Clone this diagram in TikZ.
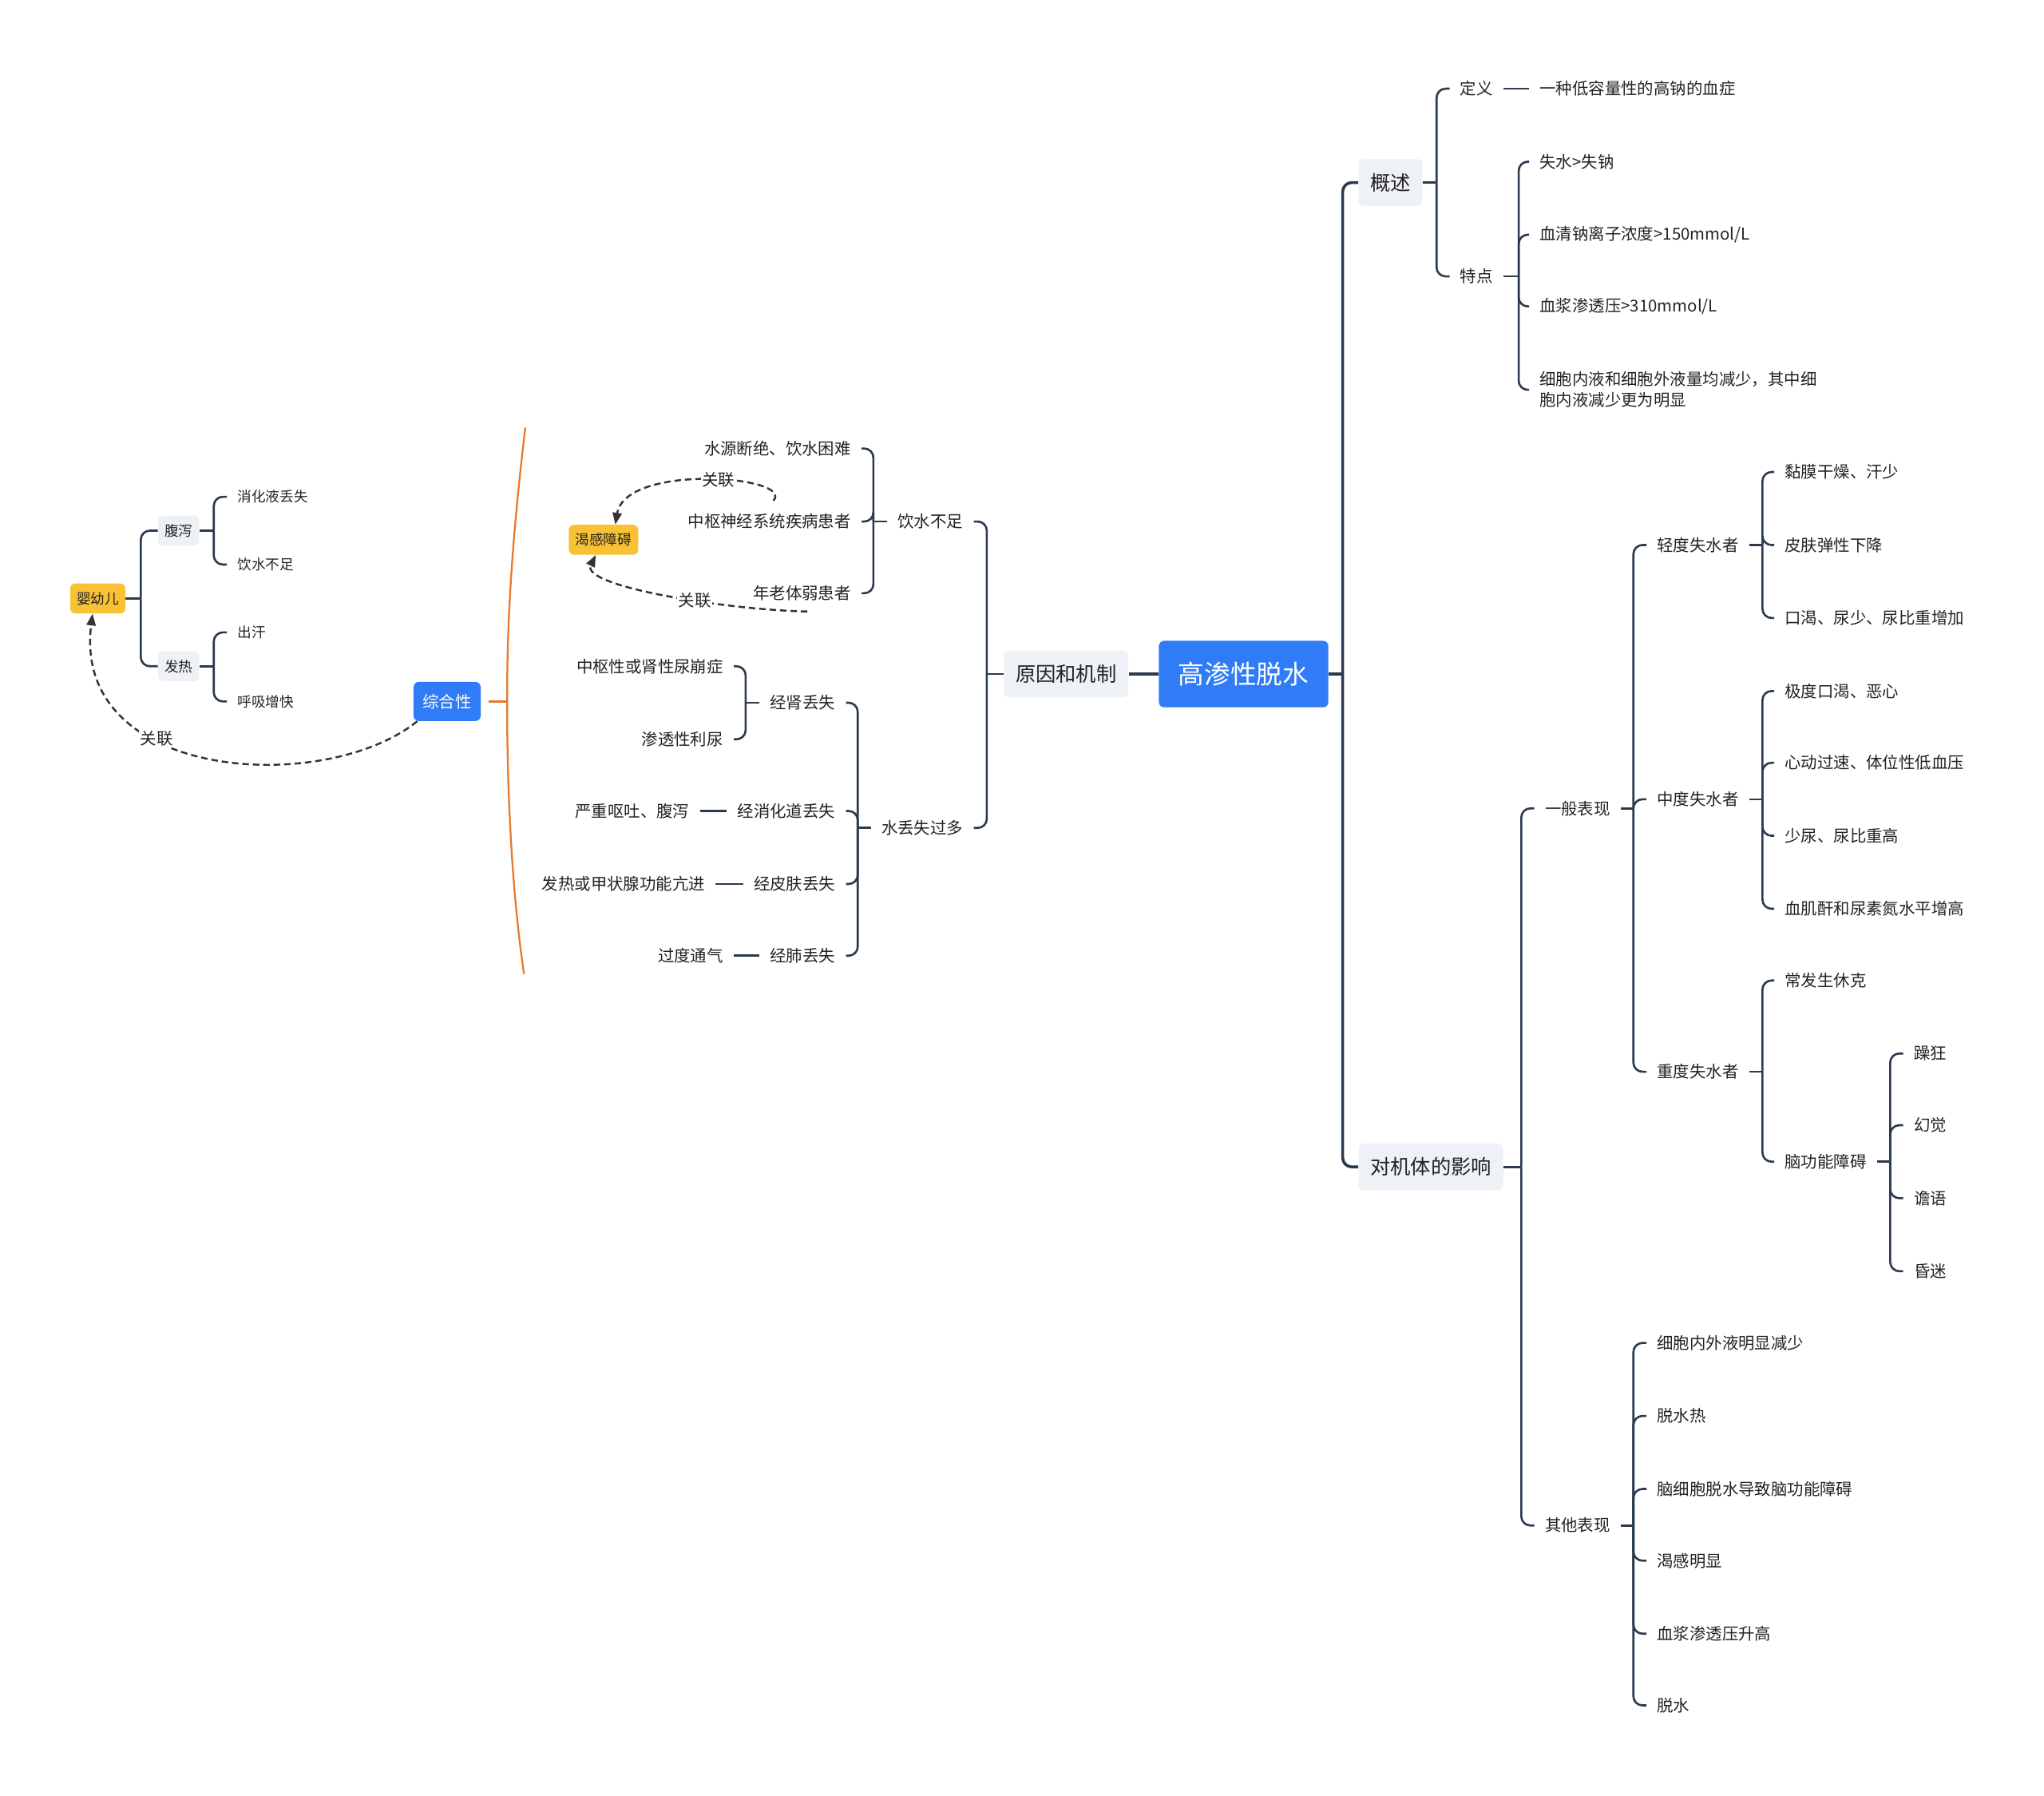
\documentclass[tikz,border=0pt]{standalone}
\usepackage{fontspec}
\setmainfont{Noto Sans CJK SC}
\usetikzlibrary{arrows.meta,positioning,calc}
\definecolor{cline}{HTML}{2B3A4E}
\definecolor{cblue}{HTML}{2F7CF6}
\definecolor{cpale}{HTML}{EEF1F5}
\definecolor{cyel}{HTML}{F9C235}
\definecolor{corg}{HTML}{E8792B}
\definecolor{ctxt}{HTML}{222222}
\definecolor{crel}{HTML}{333333}
\tikzset{
  box/.style={rounded corners=4pt, align=center, text=ctxt},
  rootn/.style={box, fill=cblue, text=white, inner xsep=15pt, minimum height=51pt, font=\fontsize{20}{24}\selectfont},
  topn/.style={box, fill=cpale, inner xsep=9pt, minimum height=36pt, font=\fontsize{15.5}{18}\selectfont},
  bluen/.style={box, fill=cblue, text=white, inner xsep=7pt, minimum height=30pt, font=\fontsize{12.5}{15}\selectfont},
  yeln/.style={box, fill=cyel, inner xsep=5pt, minimum height=23pt, font=\fontsize{10.8}{13}\selectfont},
  palen/.style={box, fill=cpale, inner xsep=5pt, minimum height=23pt, font=\fontsize{10.8}{13}\selectfont},
  txt/.style={inner xsep=8pt, inner ysep=2pt, text=ctxt, align=left, font=\fontsize{12.5}{16}\selectfont},
  stxt/.style={txt, font=\fontsize{10.8}{13}\selectfont},
  link/.style={draw=cline, line width=1.6pt, rounded corners=7pt},
  mainlink/.style={link, line width=2.2pt},
  rel/.style={draw=crel, line width=1.5pt, dash pattern=on 5pt off 3pt, -{Triangle[length=9pt,width=7pt]}},
  lbl/.style={fill=white, inner sep=1pt, text=ctxt, font=\fontsize{12.5}{15}\selectfont},
  brace/.style={draw=corg, line width=1.4pt},
}
\begin{document}
\begin{tikzpicture}[x=1pt,y=-1pt]
\useasboundingbox (0,0) rectangle (1568,1377);
% ---------------- centre
\node[rootn] (root) at (954,517) {高渗性脱水};
\node[topn, left=23pt of root] (cause) {原因和机制};
\node[topn, anchor=west] (ovw) at (1042,140) {概述};
\node[topn, anchor=west] (eff) at (1042,895) {对机体的影响};
\coordinate (rootT) at (1030,517);
\draw[mainlink] (cause) -- (root);
\draw[mainlink] (root) -- (rootT);
\foreach \c in {ovw,eff} \draw[mainlink] (rootT) |- (\c.west);
% ---------------- overview
\coordinate (ovwT) at (1102,140);
\node[txt, anchor=west] (defn) at (1112,68) {定义};
\node[txt, anchor=west] (feat) at (1112,212) {特点};
\node[txt, anchor=west] (defx) at (1173,68) {一种低容量性的高钠的血症};
\draw[link] (ovw) -- (ovwT);
\foreach \c in {defn,feat} \draw[link] (ovwT) |- (\c.west);
\draw[link] (defn) -- (defx);
\coordinate (featT) at (1165,212);
\draw[link] (feat) -- (featT);
\foreach \i/\y/\t in {1/124/{失水>失钠}, 2/180/{血清钠离子浓度>150mmol/L}, 3/235/{血浆渗透压>310mmol/L}, 4/299/{细胞内液和细胞外液量均减少，其中细\\胞内液减少更为明显}} {
  \node[txt, anchor=west] (feat\i) at (1173,\y) {\t};
  \draw[link] (featT) |- (feat\i.west);
}
% ---------------- effects
\coordinate (effT) at (1167,895);
\node[txt, anchor=west] (gen) at (1177,620) {一般表现};
\node[txt, anchor=west] (oth) at (1177,1170) {其他表现};
\draw[link] (eff) -- (effT);
\foreach \c in {gen,oth} \draw[link] (effT) |- (\c.west);
\coordinate (genT) at (1253,620);
\draw[link] (gen) -- (genT);
\foreach \n/\y/\t in {mild/418/轻度失水者, mod/613/中度失水者, sev/822/重度失水者} {
  \node[txt, anchor=west] (\n) at (1263,\y) {\t};
  \draw[link] (genT) |- (\n.west);
}
\coordinate (mildT) at (1352,418);
\draw[link] (mild) -- (mildT);
\foreach \i/\y/\t in {1/362/黏膜干燥、汗少, 2/418/皮肤弹性下降, 3/474/口渴、尿少、尿比重增加} {
  \node[txt, anchor=west] (mild\i) at (1361,\y) {\t};
  \draw[link] (mildT) |- (mild\i.west);
}
\coordinate (modT) at (1352,613);
\draw[link] (mod) -- (modT);
\foreach \i/\y/\t in {1/530/极度口渴、恶心, 2/585/心动过速、体位性低血压, 3/641/少尿、尿比重高, 4/697/血肌酐和尿素氮水平增高} {
  \node[txt, anchor=west] (mod\i) at (1361,\y) {\t};
  \draw[link] (modT) |- (mod\i.west);
}
\coordinate (sevT) at (1352,822);
\node[txt, anchor=west] (shock) at (1361,752) {常发生休克};
\node[txt, anchor=west] (brain) at (1361,891) {脑功能障碍};
\draw[link] (sev) -- (sevT);
\foreach \c in {shock,brain} \draw[link] (sevT) |- (\c.west);
\coordinate (brainT) at (1450,891);
\draw[link] (brain) -- (brainT);
\foreach \i/\y/\t in {1/808/躁狂, 2/863/幻觉, 3/919/谵语, 4/975/昏迷} {
  \node[txt, anchor=west] (brain\i) at (1460,\y) {\t};
  \draw[link] (brainT) |- (brain\i.west);
}
\coordinate (othT) at (1253,1170);
\draw[link] (oth) -- (othT);
\foreach \i/\y/\t in {1/1030/细胞内外液明显减少, 2/1086/脱水热, 3/1142/脑细胞脱水导致脑功能障碍, 4/1197/渴感明显, 5/1253/血浆渗透压升高, 6/1308/脱水} {
  \node[txt, anchor=west] (oth\i) at (1263,\y) {\t};
  \draw[link] (othT) |- (oth\i.west);
}
% ---------------- causes
\coordinate (causeT) at (757,517);
\node[txt, anchor=east] (lack) at (747,400) {饮水不足};
\node[txt, anchor=east] (loss) at (747,635) {水丢失过多};
\draw[link] (cause) -- (causeT);
\foreach \c in {lack,loss} \draw[link] (causeT) |- (\c.east);
\coordinate (lackT) at (670,400);
\draw[link] (lack) -- (lackT);
\foreach \i/\y/\t in {1/344/水源断绝、饮水困难, 2/400/中枢神经系统疾病患者, 3/455/年老体弱患者} {
  \node[txt, anchor=east] (lack\i) at (661,\y) {\t};
  \draw[link] (lackT) |- (lack\i.east);
}
\coordinate (lossT) at (658,635);
\draw[link] (loss) -- (lossT);
\foreach \n/\y/\t in {kid/539/经肾丢失, gut/622/经消化道丢失, skin/678/经皮肤丢失, lung/733/经肺丢失} {
  \node[txt, anchor=east] (\n) at (649,\y) {\t};
  \draw[link] (lossT) |- (\n.east);
}
\coordinate (kidT) at (572,539);
\draw[link] (kid) -- (kidT);
\foreach \i/\y/\t in {1/511/中枢性或肾性尿崩症, 2/567/渗透性利尿} {
  \node[txt, anchor=east] (kid\i) at (563,\y) {\t};
  \draw[link] (kidT) |- (kid\i.east);
}
\node[txt, anchor=east] (gutx) at (537,622) {严重呕吐、腹泻};
\node[txt, anchor=east] (skinx) at (549,678) {发热或甲状腺功能亢进};
\node[txt, anchor=east] (lungx) at (563,733) {过度通气};
\foreach \a/\b in {gut/gutx, skin/skinx, lung/lungx} \draw[link] (\a) -- (\b);
% ---------------- thirst
\node[yeln] (thirst) at (463,414) {渴感障碍};
\draw[rel] ([xshift=3pt, yshift=8pt]lack2.north) .. controls (610,365) and (480,355) .. node[lbl, pos=0.45] {关联} ([xshift=9pt]thirst.north);
\draw[rel] ([xshift=4pt, yshift=-6pt]lack3.south) .. controls (560,468) and (445,450) .. node[lbl, pos=0.4] {关联} ([xshift=-6pt]thirst.south);
% ---------------- infants
\node[yeln] (inf) at (75,459) {婴幼儿};
\node[palen] (dia) at (137,407) {腹泻};
\node[palen] (fev) at (137,511) {发热};
\coordinate (infT) at (108,459);
\draw[link] (inf) -- (infT);
\foreach \c in {dia,fev} \draw[link] (infT) |- (\c.west);
\coordinate (diaT) at (164,407);
\draw[link] (dia) -- (diaT);
\foreach \i/\y/\t in {1/381/消化液丢失, 2/433/饮水不足} {
  \node[stxt, anchor=west] (dia\i) at (174,\y) {\t};
  \draw[link] (diaT) |- (dia\i.west);
}
\coordinate (fevT) at (164,511);
\draw[link] (fev) -- (fevT);
\foreach \i/\y/\t in {1/485/出汗, 2/538/呼吸增快} {
  \node[stxt, anchor=west] (fev\i) at (174,\y) {\t};
  \draw[link] (fevT) |- (fev\i.west);
}
% ---------------- summary
\node[bluen] (zh) at (343,538) {综合性};
\coordinate (bt) at (403,328);
\coordinate (bm) at (389,538);
\coordinate (bb) at (402,747);
\draw[brace] (bt) .. controls (392,420) and (389,480) .. (bm) .. controls (389,600) and (392,680) .. (bb);
\draw[brace, shorten <=6pt] (zh) -- (bm);
\draw[rel] ([xshift=3pt]zh.south west) .. controls (250,610) and (55,600) .. node[lbl, pos=0.64] {关联} ([xshift=-4pt]inf.south);
\end{tikzpicture}
\end{document}
